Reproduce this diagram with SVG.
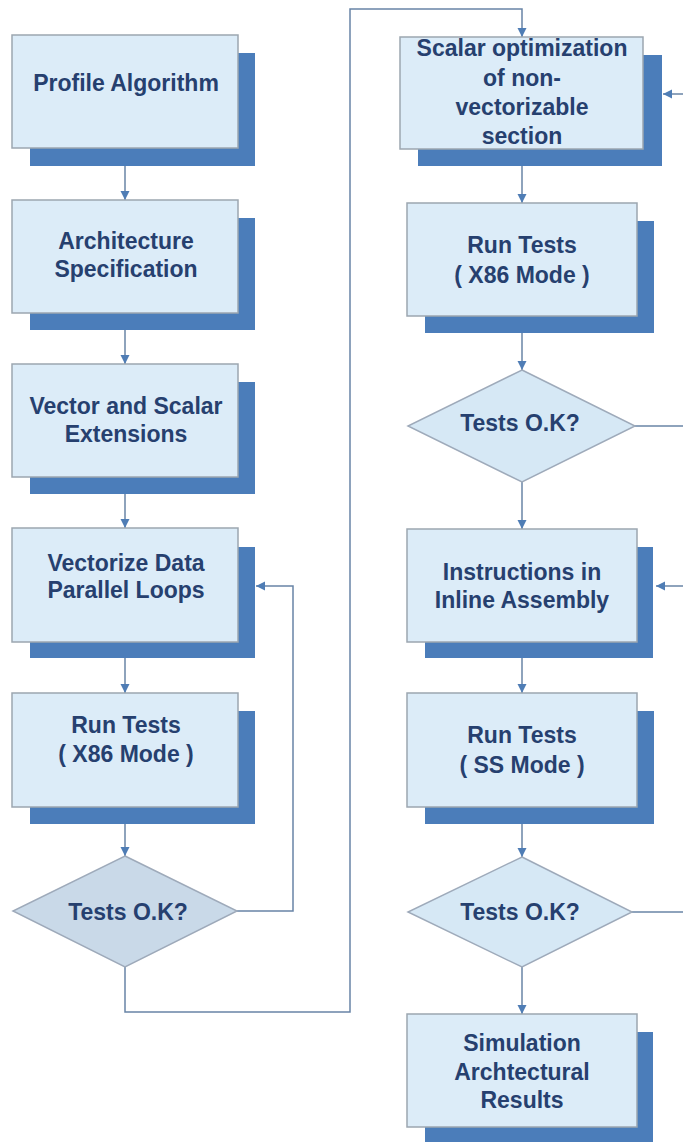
<svg xmlns="http://www.w3.org/2000/svg" width="683" height="1142" viewBox="0 0 683 1142">
<defs>
<marker id="ah" markerWidth="10" markerHeight="10" refX="9" refY="5" orient="auto" markerUnits="userSpaceOnUse">
<path d="M0,0.5 L9,5 L0,9.5 z" fill="#4f7db5"/>
</marker>
<style>
.sh{fill:#4b7dba}
.bx{fill:#dcecf8;stroke:#9ca6b0;stroke-width:1.5}
.dl{fill:#c9d9e8;stroke:#9eaaba;stroke-width:1.5}
.dr{fill:#d6e8f5;stroke:#9eaaba;stroke-width:1.5}
.t{font-family:"Liberation Sans",Arial,sans-serif;font-weight:bold;font-size:23px;fill:#26406f;text-anchor:middle}
.c{fill:none;stroke:#6884a6;stroke-width:1.5}
.a{fill:none;stroke:#6884a6;stroke-width:1.5;marker-end:url(#ah)}
</style>
</defs>
<rect width="683" height="1142" fill="#ffffff"/>

<g id="connectors">
<line class="a" x1="125" y1="166" x2="125" y2="200"/>
<line class="a" x1="125" y1="330" x2="125" y2="364"/>
<line class="a" x1="125" y1="494" x2="125" y2="528"/>
<line class="a" x1="125" y1="658" x2="125" y2="693"/>
<line class="a" x1="125" y1="824" x2="125" y2="856"/>
<polyline class="a" points="237,911 293,911 293,586 256,586"/>
<polyline class="a" points="125,967 125,1012 350,1012 350,9 522,9 522,37"/>
<line class="a" x1="522" y1="166" x2="522" y2="203"/>
<line class="a" x1="522" y1="333" x2="522" y2="370"/>
<line class="a" x1="522" y1="482" x2="522" y2="529"/>
<line class="a" x1="522" y1="658" x2="522" y2="693"/>
<line class="a" x1="522" y1="824" x2="522" y2="857"/>
<line class="a" x1="522" y1="967" x2="522" y2="1014"/>
<line class="c" x1="635" y1="426" x2="683" y2="426"/>
<line class="a" x1="683" y1="94" x2="663" y2="94"/>
<line class="c" x1="632" y1="912" x2="683" y2="912"/>
<line class="a" x1="683" y1="586" x2="656" y2="586"/>
</g>

<g id="n1">
<rect class="sh" x="30" y="53" width="225" height="113"/>
<rect class="bx" x="12" y="35" width="226" height="113"/>
<text class="t" x="126" y="91">Profile Algorithm</text>
</g>
<g id="n2">
<rect class="sh" x="30" y="218" width="225" height="112"/>
<rect class="bx" x="12" y="200" width="226" height="113"/>
<text class="t" x="126" y="249">Architecture</text>
<text class="t" x="126" y="277">Specification</text>
</g>
<g id="n3">
<rect class="sh" x="30" y="382" width="225" height="112"/>
<rect class="bx" x="12" y="364" width="226" height="113"/>
<text class="t" x="126" y="414">Vector and Scalar</text>
<text class="t" x="126" y="442">Extensions</text>
</g>
<g id="n4">
<rect class="sh" x="30" y="547" width="225" height="111"/>
<rect class="bx" x="12" y="528" width="226" height="114"/>
<text class="t" x="126" y="571">Vectorize Data</text>
<text class="t" x="126" y="598">Parallel Loops</text>
</g>
<g id="n5">
<rect class="sh" x="30" y="711" width="225" height="113"/>
<rect class="bx" x="12" y="693" width="226" height="114"/>
<text class="t" x="126" y="733">Run Tests</text>
<text class="t" x="126" y="762">( X86 Mode )</text>
</g>
<g id="n6">
<polygon class="dl" points="125,856 237,911 125,967 13,911"/>
<text class="t" x="128" y="920">Tests O.K?</text>
</g>

<g id="n7">
<rect class="sh" x="418" y="55" width="244" height="111"/>
<rect class="bx" x="400" y="37" width="243" height="112"/>
<text class="t" x="522" y="56">Scalar optimization</text>
<text class="t" x="522" y="86">of non-</text>
<text class="t" x="522" y="115">vectorizable</text>
<text class="t" x="522" y="144">section</text>
</g>
<g id="n8">
<rect class="sh" x="425" y="221" width="229" height="112"/>
<rect class="bx" x="407" y="203" width="230" height="113"/>
<text class="t" x="522" y="253">Run Tests</text>
<text class="t" x="522" y="283">( X86 Mode )</text>
</g>
<g id="n9">
<polygon class="dr" points="522,370 635,426 522,482 408,426"/>
<text class="t" x="520" y="431">Tests O.K?</text>
</g>
<g id="n10">
<rect class="sh" x="425" y="547" width="228" height="111"/>
<rect class="bx" x="407" y="529" width="230" height="113"/>
<text class="t" x="522" y="580">Instructions in</text>
<text class="t" x="522" y="608">Inline Assembly</text>
</g>
<g id="n11">
<rect class="sh" x="425" y="711" width="229" height="113"/>
<rect class="bx" x="407" y="693" width="230" height="114"/>
<text class="t" x="522" y="743">Run Tests</text>
<text class="t" x="522" y="773">( SS Mode )</text>
</g>
<g id="n12">
<polygon class="dr" points="522,857 632,912 522,967 408,912"/>
<text class="t" x="520" y="920">Tests O.K?</text>
</g>
<g id="n13">
<rect class="sh" x="425" y="1032" width="228" height="112"/>
<rect class="bx" x="407" y="1014" width="230" height="113"/>
<text class="t" x="522" y="1051">Simulation</text>
<text class="t" x="522" y="1080">Archtectural</text>
<text class="t" x="522" y="1108">Results</text>
</g>
</svg>
